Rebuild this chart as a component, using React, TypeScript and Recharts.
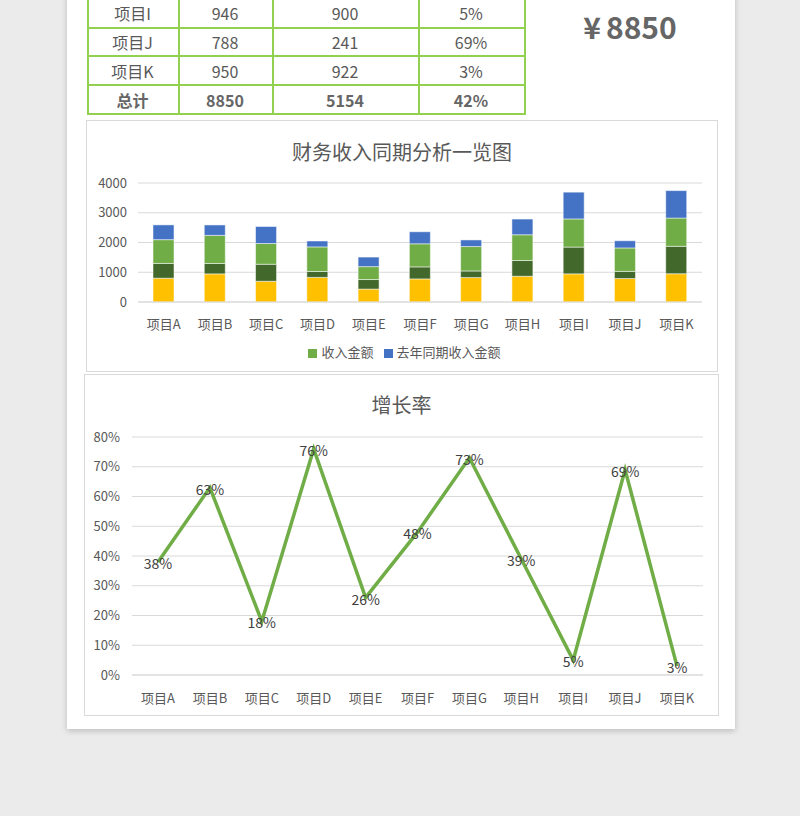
import React from "react";
import {
  BarChart,
  Bar,
  LineChart,
  Line,
  LabelList,
  XAxis,
  YAxis,
  CartesianGrid,
  Legend,
} from "recharts";

const projects = ["项目A", "项目B", "项目C", "项目D", "项目E", "项目F", "项目G", "项目H", "项目I", "项目J", "项目K"];
const income = [800, 945, 697, 827, 434, 776, 821, 866, 946, 788, 950];
const lastYear = [496, 350, 572, 198, 321, 404, 222, 528, 900, 241, 922];
const growth = [0.38, 0.63, 0.18, 0.76, 0.26, 0.48, 0.73, 0.39, 0.05, 0.69, 0.03];

const barTicks = [0, 1000, 2000, 3000, 4000];
const pctTicks = [0, 0.1, 0.2, 0.3, 0.4, 0.5, 0.6, 0.7, 0.8];

const FONT = '"Noto Sans CJK SC", "Noto Sans", sans-serif';
const TEXT = "#595959";
const GRID = "#d9d9d9";
const TABLE_GREEN = "#92d050";

const barData = projects.map((name, i) => ({
  name,
  inc: income[i],
  last: lastYear[i],
  inc2: income[i],
  last2: lastYear[i],
}));

const lineData = projects.map((name, i) => ({ name, rate: growth[i] }));

const totalIncome = income.reduce((a, b) => a + b, 0);
const totalLast = lastYear.reduce((a, b) => a + b, 0);
const totalRate = (totalIncome - totalLast) / totalIncome;

const pct = (v: number) => `${Math.round(v * 100)}%`;

// only the last rows of the table are visible in the picture
const visibleRows = [8, 9, 10];
const colWidths = [91, 94, 146, 106];

function Row({ cells, bold, top }: { cells: string[]; bold?: boolean; top: number }) {
  let x = 0;
  return (
    <>
      {cells.map((c, i) => {
        const left = x;
        x += colWidths[i];
        return (
          <div
            key={i}
            style={{
              position: "absolute",
              left,
              top,
              width: colWidths[i],
              height: 29,
              lineHeight: "29px",
              textAlign: "center",
              fontSize: 16,
              fontWeight: bold ? 700 : 400,
              color: bold ? "#666666" : TEXT,
            }}
          >
            {c}
          </div>
        );
      })}
    </>
  );
}

function DataTable() {
  const rows = visibleRows.map((i) => [projects[i], String(income[i]), String(lastYear[i]), pct(growth[i])]);
  rows.push(["总计", String(totalIncome), String(totalLast), pct(totalRate)]);
  const lineYs = [28, 56, 85, 114];
  const colXs = [0, 91, 185, 331, 437];
  return (
    <div style={{ position: "absolute", left: 87, top: -1, width: 438, height: 116, fontFamily: FONT }}>
      {rows.map((r, k) => (
        <Row key={k} cells={r} bold={k === rows.length - 1} top={k * 29} />
      ))}
      {lineYs.map((y) => (
        <div key={"h" + y} style={{ position: "absolute", left: 0, top: y, width: 438, height: 2, background: TABLE_GREEN }} />
      ))}
      {colXs.map((x) => (
        <div key={"v" + x} style={{ position: "absolute", left: x, top: 0, width: 2, height: 116, background: TABLE_GREEN }} />
      ))}
    </div>
  );
}

function BarPanel() {
  return (
    <div
      style={{
        position: "absolute",
        left: 86,
        top: 120,
        width: 632,
        height: 252,
        border: "1px solid #d9d9d9",
        boxSizing: "border-box",
        background: "#fff",
      }}
    >
      <div
        style={{
          position: "absolute",
          left: 0,
          top: 16,
          width: "100%",
          textAlign: "center",
          fontSize: 20,
          color: TEXT,
          fontFamily: FONT,
        }}
      >
        财务收入同期分析一览图
      </div>
      <BarChart
        width={630}
        height={250}
        data={barData}
        margin={{ top: 62, right: 15, left: 0, bottom: 3 }}
        barSize={21}
        style={{ fontFamily: FONT }}
      >
        <CartesianGrid vertical={false} stroke={GRID} />
        <XAxis
          dataKey="name"
          axisLine={{ stroke: GRID }}
          tickLine={false}
          tick={{ fontSize: 13, fill: TEXT }}
          tickMargin={12}
          height={40}
          interval={0}
        />
        <YAxis
          domain={[0, 4000]}
          ticks={barTicks}
          axisLine={false}
          tickLine={false}
          tick={{ fontSize: 13, fill: TEXT }}
          tickMargin={5}
          width={51}
        />
        <Legend
          verticalAlign="bottom"
          height={26}
          iconType="square"
          iconSize={9}
          itemSorter="dataKey"
          wrapperStyle={{ fontSize: 13, color: TEXT, paddingLeft: 15 }}
          formatter={(v) => <span style={{ color: TEXT }}>{v}</span>}
        />
        <Bar dataKey="inc" stackId="s" fill="#ffc000" stroke="#fff" strokeWidth={0.5} legendType="none" isAnimationActive={false} />
        <Bar dataKey="last" stackId="s" fill="#43682b" stroke="#fff" strokeWidth={0.5} legendType="none" isAnimationActive={false} />
        <Bar dataKey="inc2" name="收入金额" stackId="s" fill="#70ad47" stroke="#fff" strokeWidth={0.5} isAnimationActive={false} />
        <Bar dataKey="last2" name="去年同期收入金额" stackId="s" fill="#4472c4" stroke="#fff" strokeWidth={0.5} isAnimationActive={false} />
      </BarChart>
    </div>
  );
}

function LinePanel() {
  return (
    <div
      style={{
        position: "absolute",
        left: 84,
        top: 374,
        width: 635,
        height: 342,
        border: "1px solid #d9d9d9",
        boxSizing: "border-box",
        background: "#fff",
      }}
    >
      <div
        style={{
          position: "absolute",
          left: 0,
          top: 15,
          width: "100%",
          textAlign: "center",
          fontSize: 20,
          color: TEXT,
          fontFamily: FONT,
        }}
      >
        增长率
      </div>
      <LineChart
        width={633}
        height={340}
        data={lineData}
        margin={{ top: 62, right: 15, left: 0, bottom: 0 }}
        style={{ fontFamily: FONT }}
      >
        <CartesianGrid vertical={false} stroke={GRID} />
        <XAxis
          dataKey="name"
          axisLine={{ stroke: GRID }}
          tickLine={false}
          tick={{ fontSize: 13, fill: TEXT }}
          tickMargin={13}
          height={40}
          interval={0}
          padding={{ left: 26, right: 26 }}
        />
        <YAxis
          domain={[0, 0.8]}
          ticks={pctTicks}
          tickFormatter={pct}
          axisLine={false}
          tickLine={false}
          tick={{ fontSize: 13, fill: TEXT }}
          tickMargin={6}
          width={47}
        />
        <Line
          type="linear"
          dataKey="rate"
          stroke="#70ad47"
          strokeWidth={3.5}
          dot={false}
          isAnimationActive={false}
        >
          <LabelList dataKey="rate" position="center" formatter={(v: number) => pct(v)} fill="#404040" fontSize={14} dy={2} />
        </Line>
      </LineChart>
    </div>
  );
}

export default function App() {
  return (
    <div style={{ position: "relative", width: 800, height: 816, background: "#ebebeb", overflow: "hidden" }}>
      <style>{"body{margin:0}"}</style>
      <div
        style={{
          position: "absolute",
          left: 67,
          top: -10,
          width: 668,
          height: 739,
          background: "#fff",
          boxShadow: "0 2px 6px rgba(0,0,0,0.2)",
        }}
      />
      <DataTable />
      <div
        style={{
          position: "absolute",
          left: 560,
          top: 4,
          width: 140,
          textAlign: "center",
          fontSize: 30,
          fontWeight: 700,
          color: "#666666",
          fontFamily: FONT,
        }}
      >
        <span style={{ marginRight: 5 }}>¥</span>
        {totalIncome}
      </div>
      <BarPanel />
      <LinePanel />
    </div>
  );
}
